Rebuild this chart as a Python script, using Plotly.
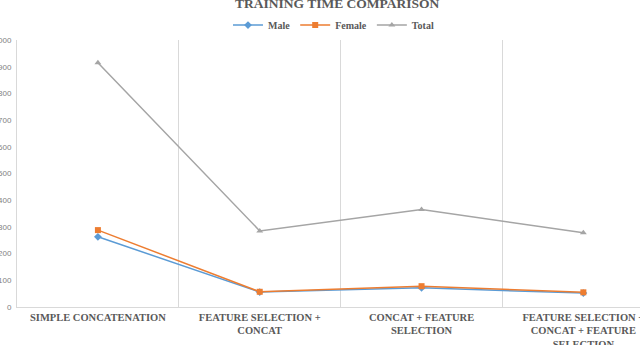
import plotly.graph_objects as go

categories = [
    "SIMPLE CONCATENATION",
    "FEATURE SELECTION +<br>CONCAT",
    "CONCAT + FEATURE<br>SELECTION",
    "FEATURE SELECTION +<br>CONCAT + FEATURE<br>SELECTION",
]
male = [263, 56, 72, 52]
female = [288, 57, 78, 55]
total = [915, 285, 365, 278]
y_ticks = [0, 100, 200, 300, 400, 500, 600, 700, 800, 900, 1000]

TXT = "#595959"
GRID = "#D9D9D9"
SERIF = "Liberation Serif"

fig = go.Figure()
fig.add_trace(go.Scatter(x=categories, y=male, name="Male", mode="lines+markers",
                         line=dict(color="#5B9BD5", width=1.5),
                         marker=dict(symbol="diamond", size=6, color="#5B9BD5")))
fig.add_trace(go.Scatter(x=categories, y=female, name="Female", mode="lines+markers",
                         line=dict(color="#ED7D31", width=1.5),
                         marker=dict(symbol="square", size=6, color="#ED7D31")))
fig.add_trace(go.Scatter(x=categories, y=total, name="Total", mode="lines+markers",
                         line=dict(color="#A5A5A5", width=1.5),
                         marker=dict(symbol="triangle-up", size=6, color="#A5A5A5")))

fig.update_layout(
    width=640, height=345,
    margin=dict(l=17, r=0, t=40, b=38),
    paper_bgcolor="white", plot_bgcolor="white",
    showlegend=True,
    legend=dict(orientation="h", x=0.508, xanchor="center", y=1.056, yanchor="middle",
                font=dict(family=SERIF, size=10, color=TXT, weight="bold"),
                itemwidth=30, tracegroupgap=0, bgcolor="rgba(0,0,0,0)"),
    annotations=[dict(text="TRAINING TIME COMPARISON", xref="paper", yref="paper",
                      x=0.514, y=1.135, xanchor="center", yanchor="middle", showarrow=False,
                      font=dict(family=SERIF, size=13.5, color=TXT, weight="bold"))],
)
fig.update_xaxes(
    type="category", range=[-0.5, 3.35], tickson="boundaries",
    showgrid=True, gridcolor=GRID, gridwidth=1,
    showline=True, linecolor=GRID, linewidth=1,
    ticks="", ticklabeloverflow="allow", automargin=False,
    tickfont=dict(family=SERIF, size=10.5, color=TXT, weight="bold"),
)
fig.update_yaxes(
    range=[0, 1000], tickvals=y_ticks, showgrid=False, zeroline=False,
    showline=True, linecolor=GRID, linewidth=1,
    ticks="", automargin=False, ticklabelstandoff=3,
    tickfont=dict(family="Liberation Sans", size=8, color="#7F7F7F"),
)

fig.write_html("out.html", config={"displayModeBar": False},
               post_script="document.body.style.margin='0';document.body.style.overflow='hidden';")
